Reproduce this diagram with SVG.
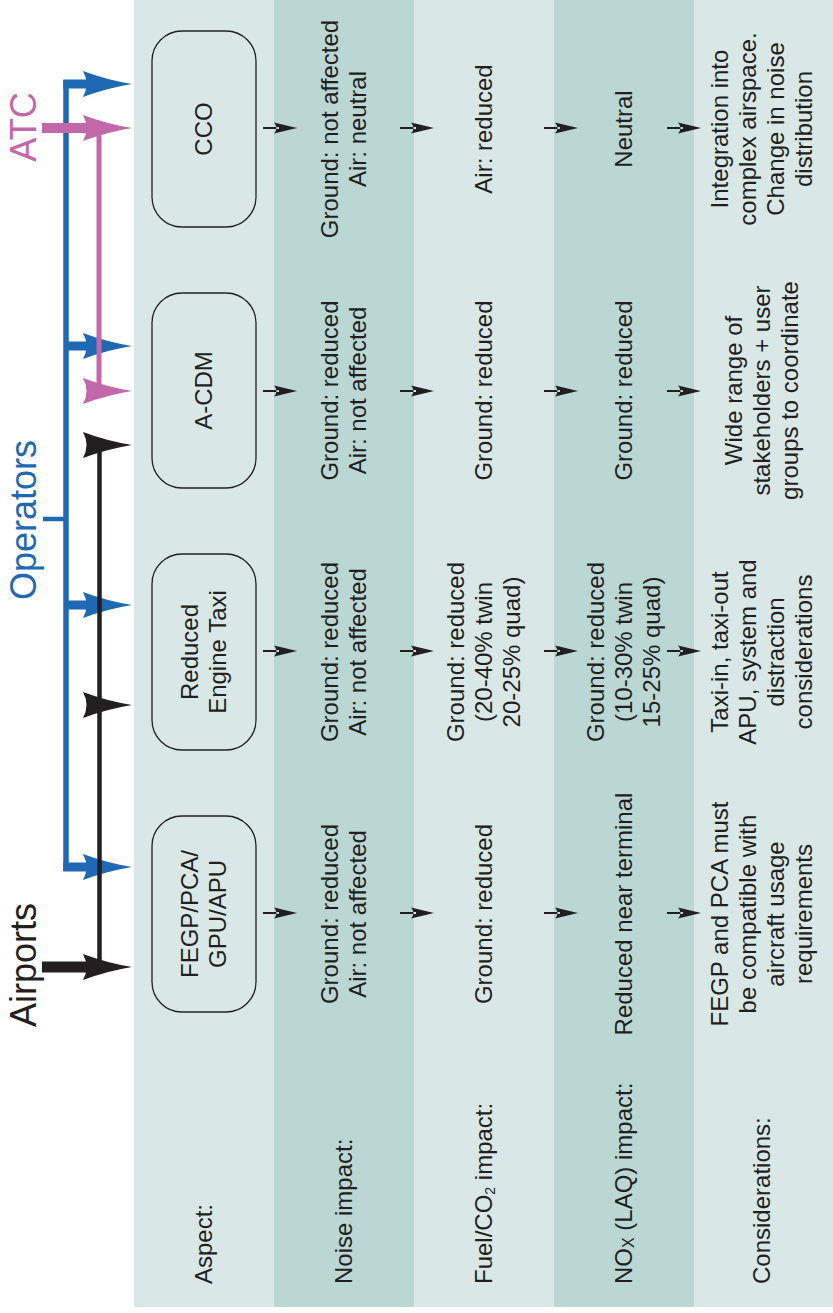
<svg xmlns="http://www.w3.org/2000/svg" xmlns:xlink="http://www.w3.org/1999/xlink" width="833" height="1313" viewBox="0 0 833 1313">
<style>
.bl{fill:#d9e8e7}
.bd{fill:#bad7d4}
.node{fill:none;stroke:#231f20;stroke-width:1.3}
.t{font-family:"Liberation Sans",Arial,Helvetica,sans-serif;font-size:24px;fill:#231f20;text-anchor:middle}
.lbl{text-anchor:start}
.big{font-family:"Liberation Sans",Arial,Helvetica,sans-serif;font-size:36px;text-anchor:middle}
.sa{fill:#231f20}
.blue{stroke:#1f69b2;fill:none}
.pink{stroke:#c268aa;fill:none}
.blk{stroke:#231f20;fill:none}
</style>
<defs>
<path id="sarrow" d="M0,-1.1 H16 V1.1 H0 Z M34,0 L11,-5.5 Q16,0 11,5.5 Z"/>
<path id="bhead" d="M0,0 Q-25,-4 -49,-13 Q-42,0 -49,13 Q-25,4 0,0 Z"/>
</defs>
<rect width="833" height="1313" fill="#ffffff"/>
<g id="bands">
<rect class="bl" x="134" y="0" width="140" height="1307"/>
<rect class="bd" x="274" y="0" width="140" height="1307"/>
<rect class="bl" x="414" y="0" width="140" height="1307"/>
<rect class="bd" x="554" y="0" width="140" height="1307"/>
<rect class="bl" x="694" y="0" width="139" height="1307"/>
</g>
<g id="row-labels" class="t lbl">
<text class="t lbl" transform="translate(211.5,1284) rotate(-90)">Aspect:</text>
<text class="t lbl" transform="translate(351.5,1284) rotate(-90)">Noise impact:</text>
<text class="t lbl" transform="translate(491.5,1284) rotate(-90)">Fuel/CO<tspan font-size="14" dy="3">2</tspan><tspan dy="-3"> impact:</tspan></text>
<text class="t lbl" transform="translate(631.5,1284) rotate(-90)">NO<tspan font-size="16" dy="2">X</tspan><tspan dy="-2"> (LAQ) impact:</tspan></text>
<text class="t lbl" transform="translate(769.5,1284) rotate(-90)">Considerations:</text>
</g>
<g id="node-cco">
<rect class="node" x="152" y="31" width="104" height="196" rx="30"/>
<text class="t" transform="translate(211.5,129) rotate(-90)">CCO</text>
</g>
<g id="node-acdm">
<rect class="node" x="152" y="293" width="104" height="195" rx="30"/>
<text class="t" transform="translate(211.5,390.5) rotate(-90)">A-CDM</text>
</g>
<g id="node-ret">
<rect class="node" x="152" y="554" width="104" height="196" rx="30"/>
<text class="t" transform="translate(197.5,652) rotate(-90)"><tspan x="0" dy="0">Reduced</tspan><tspan x="0" dy="28">Engine Taxi</tspan></text>
</g>
<g id="node-fegp">
<rect class="node" x="152" y="816" width="104" height="196" rx="30"/>
<text class="t" transform="translate(197.5,914) rotate(-90)"><tspan x="0" dy="0">FEGP/PCA/</tspan><tspan x="0" dy="28">GPU/APU</tspan></text>
</g>
<g id="cells-cco">
<text class="t" transform="translate(337.5,129) rotate(-90)"><tspan x="0">Ground: not affected</tspan><tspan x="0" dy="28">Air: neutral</tspan></text>
<text class="t" transform="translate(491.5,129) rotate(-90)">Air: reduced</text>
<text class="t" transform="translate(631.5,129) rotate(-90)">Neutral</text>
<text class="t" transform="translate(727.5,129) rotate(-90)"><tspan x="0">Integration into</tspan><tspan x="0" dy="28">complex airspace.</tspan><tspan x="0" dy="28">Change in noise</tspan><tspan x="0" dy="28">distribution</tspan></text>
</g>
<g id="cells-acdm">
<text class="t" transform="translate(337.5,390.5) rotate(-90)"><tspan x="0">Ground: reduced</tspan><tspan x="0" dy="28">Air: not affected</tspan></text>
<text class="t" transform="translate(491.5,390.5) rotate(-90)">Ground: reduced</text>
<text class="t" transform="translate(631.5,390.5) rotate(-90)">Ground: reduced</text>
<text class="t" transform="translate(741.5,390.5) rotate(-90)"><tspan x="0">Wide range of</tspan><tspan x="0" dy="28">stakeholders + user</tspan><tspan x="0" dy="28">groups to coordinate</tspan></text>
</g>
<g id="cells-ret">
<text class="t" transform="translate(337.5,652) rotate(-90)"><tspan x="0">Ground: reduced</tspan><tspan x="0" dy="28">Air: not affected</tspan></text>
<text class="t" transform="translate(463.5,652) rotate(-90)"><tspan x="0">Ground: reduced</tspan><tspan x="0" dy="28">(20-40% twin</tspan><tspan x="0" dy="28">20-25% quad)</tspan></text>
<text class="t" transform="translate(603.5,652) rotate(-90)"><tspan x="0">Ground: reduced</tspan><tspan x="0" dy="28">(10-30% twin</tspan><tspan x="0" dy="28">15-25% quad)</tspan></text>
<text class="t" transform="translate(727.5,652) rotate(-90)"><tspan x="0">Taxi-in, taxi-out</tspan><tspan x="0" dy="28">APU, system and</tspan><tspan x="0" dy="28">distraction</tspan><tspan x="0" dy="28">considerations</tspan></text>
</g>
<g id="cells-fegp">
<text class="t" transform="translate(337.5,914) rotate(-90)"><tspan x="0">Ground: reduced</tspan><tspan x="0" dy="28">Air: not affected</tspan></text>
<text class="t" transform="translate(491.5,914) rotate(-90)">Ground: reduced</text>
<text class="t" transform="translate(631.5,914) rotate(-90)">Reduced near terminal</text>
<text class="t" transform="translate(727.5,914) rotate(-90)"><tspan x="0">FEGP and PCA must</tspan><tspan x="0" dy="28">be compatible with</tspan><tspan x="0" dy="28">aircraft usage</tspan><tspan x="0" dy="28">requirements</tspan></text>
</g>
<g id="connectors">
<g id="row-arrows" class="sa">
<use xlink:href="#sarrow" x="263" y="128"/>
<use xlink:href="#sarrow" x="400" y="128"/>
<use xlink:href="#sarrow" x="544" y="128"/>
<use xlink:href="#sarrow" x="667" y="128"/>
<use xlink:href="#sarrow" x="263" y="391"/>
<use xlink:href="#sarrow" x="400" y="391"/>
<use xlink:href="#sarrow" x="544" y="391"/>
<use xlink:href="#sarrow" x="667" y="391"/>
<use xlink:href="#sarrow" x="263" y="651"/>
<use xlink:href="#sarrow" x="400" y="651"/>
<use xlink:href="#sarrow" x="544" y="651"/>
<use xlink:href="#sarrow" x="667" y="651"/>
<use xlink:href="#sarrow" x="263" y="913"/>
<use xlink:href="#sarrow" x="400" y="913"/>
<use xlink:href="#sarrow" x="544" y="913"/>
<use xlink:href="#sarrow" x="667" y="913"/>
</g>
<g id="operators-lines">
<path class="blue" stroke-width="5.5" d="M66,80 V871"/>
<path class="blue" stroke-width="9" d="M63.3,84 H92 M66,346 H92 M66,605 H92 M63.3,867 H92"/>
<path class="blue" stroke-width="4.5" d="M43,519 H66"/>
<g fill="#1f69b2">
<use xlink:href="#bhead" x="132" y="84"/>
<use xlink:href="#bhead" x="132" y="346"/>
<use xlink:href="#bhead" x="132" y="605"/>
<use xlink:href="#bhead" x="132" y="867"/>
</g>
</g>
<g id="airports-lines">
<path class="blk" stroke-width="4.5" d="M99.5,445 V967"/>
<path class="blk" stroke-width="11" d="M42,967 H92"/>
<g fill="#231f20">
<use xlink:href="#bhead" x="132" y="445"/>
<use xlink:href="#bhead" x="132" y="705"/>
<use xlink:href="#bhead" x="132" y="967"/>
</g>
</g>
<g id="atc-lines">
<path class="pink" stroke-width="5" d="M99,128 V391"/>
<path class="pink" stroke-width="10" d="M42,128 H92"/>
<g fill="#c268aa">
<use xlink:href="#bhead" x="132" y="128"/>
<use xlink:href="#bhead" x="132" y="391"/>
</g>
</g>
</g>
<g id="label-atc"><text class="big" fill="#c268aa" transform="translate(35.5,127) rotate(-90)">ATC</text></g>
<g id="label-operators"><text class="big" fill="#1f69b2" transform="translate(35.5,520) rotate(-90)">Operators</text></g>
<g id="label-airports"><text class="big" fill="#231f20" transform="translate(35.5,965) rotate(-90)">Airports</text></g>
</svg>
